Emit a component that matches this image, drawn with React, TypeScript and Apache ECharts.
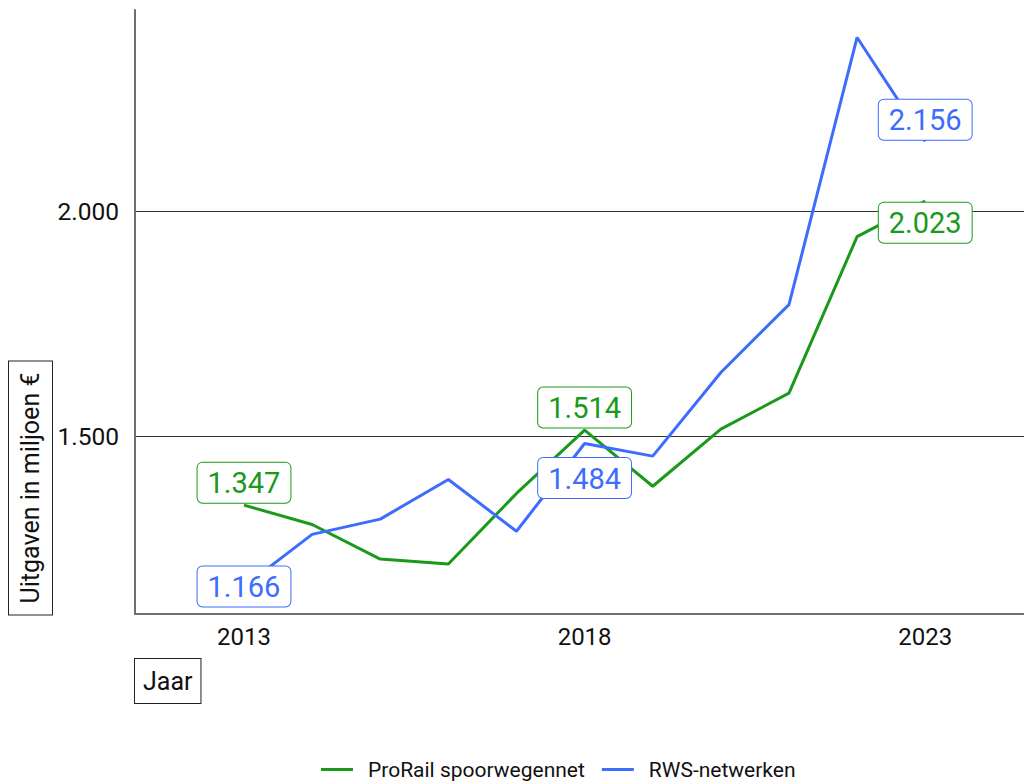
import React, { useEffect, useRef } from "react";
import * as echarts from "echarts";

const years = [2013, 2014, 2015, 2016, 2017, 2018, 2019, 2020, 2021, 2022, 2023];
const prorail = [1347, 1304, 1227, 1216, 1373, 1514, 1389, 1516, 1596, 1944, 2023];
const rws = [1166, 1282, 1316, 1404, 1289, 1484, 1456, 1642, 1793, 2387, 2156];
const xTicks = [2013, 2018, 2023];
const yTicks = [1500, 2000];
const seriesNames = ["ProRail spoorwegennet", "RWS-netwerken"];
const colors = ["#1a9a1a", "#3d6cff"];
const labelYears = [2013, 2018, 2023];

const fmt = (v: number) => v.toLocaleString("nl-NL");

export default function App() {
  const ref = useRef<HTMLDivElement>(null);
  useEffect(() => {
    if (!ref.current) return;
    const chart = echarts.init(ref.current, undefined, { renderer: "svg" });
    const all = [...prorail, ...rws];
    const dMin = Math.min(...all);
    const dMax = Math.max(...all);
    const pad = (dMax - dMin) * 0.05;

    const positions: Record<string, any>[] = [
      { 2013: { position: "top", distance: 2 }, 2018: { position: "top", distance: 2 }, 2023: { position: "bottom", distance: 1 } },
      { 2013: { position: "inside", distance: 0 }, 2018: { position: "bottom", distance: 14 }, 2023: { position: "top", distance: 1 } },
    ];

    const mkData = (vals: number[], si: number) =>
      vals.map((v, i) => {
        const yr = years[i];
        const item: any = { value: [yr, v] };
        if (labelYears.includes(yr)) {
          const p = positions[si][yr];
          item.label = {
            show: true,
            position: p.position,
            distance: p.distance,
            formatter: fmt(v),
            color: colors[si],
            fontSize: 29,
            fontFamily: "Roboto",
            backgroundColor: "#ffffff",
            borderColor: colors[si],
            borderWidth: 1,
            borderRadius: 5,
            padding: [6, 10, 5, 10],
          };
        }
        return item;
      });

    const textBase = { fontFamily: "Roboto", fontSize: 25, fill: "#111" };

    chart.setOption({
      animation: false,
      backgroundColor: "#ffffff",
      textStyle: { fontFamily: "Roboto" },
      grid: { left: 135, right: 0, top: 10, bottom: 170, containLabel: false },
      xAxis: {
        type: "value",
        min: 2011.4,
        max: 2024.45,
        axisLine: { show: true, onZero: false, lineStyle: { color: "#6e6e6e", width: 2 } },
        axisTick: { show: false, customValues: xTicks },
        splitLine: { show: false },
        axisLabel: {
          customValues: xTicks,
          color: "#111",
          fontSize: 24,
          fontFamily: "Roboto",
          margin: 11,
          formatter: (v: number) => String(v),
        },
      },
      yAxis: {
        type: "value",
        min: dMin - pad,
        max: dMax + pad,
        axisLine: { show: true, lineStyle: { color: "#6e6e6e", width: 2 } },
        axisTick: { show: false, customValues: yTicks },
        splitLine: { show: true, lineStyle: { color: "#333333", width: 1 } },
        axisLabel: {
          customValues: yTicks,
          color: "#111",
          fontSize: 24.5,
          fontFamily: "Roboto",
          margin: 16,
          formatter: (v: number) => fmt(v),
        },
      },
      legend: {
        top: 754,
        left: 316,
        icon: "rect",
        itemWidth: 32,
        itemHeight: 3,
        itemGap: 17,
        textStyle: { fontSize: 21, fontFamily: "Roboto", color: "#111", padding: [0, 0, 0, 10] },
        data: seriesNames.map((n, i) => ({ name: n, itemStyle: { color: colors[i] } })),
      },
      series: [prorail, rws].map((vals, si) => ({
        type: "line",
        name: seriesNames[si],
        data: mkData(vals, si),
        color: colors[si],
        lineStyle: { width: 3, color: colors[si] },
        symbol: "circle",
        symbolSize: 1,
        itemStyle: { color: "transparent", borderWidth: 0 },
        emphasis: { disabled: true },
        z: 2 + si,
      })),
      graphic: [
        {
          type: "text",
          x: 30.5,
          y: 488,
          rotation: Math.PI / 2,
          style: {
            ...textBase,
            text: "Uitgaven in miljoen €",
            align: "center",
            verticalAlign: "middle",
            backgroundColor: "#fff",
            borderColor: "#222",
            borderWidth: 1,
            padding: [10, 11, 8, 11],
          },
        },
        {
          type: "text",
          x: 135,
          y: 659,
          style: {
            ...textBase,
            text: "Jaar",
            align: "left",
            verticalAlign: "top",
            backgroundColor: "#fff",
            borderColor: "#222",
            borderWidth: 1,
            padding: [10, 8, 9, 8],
          },
        },
      ],
    });
    return () => chart.dispose();
  }, []);
  return <div ref={ref} style={{ position: "absolute", left: 0, top: 0, width: 1024, height: 784 }} />;
}
